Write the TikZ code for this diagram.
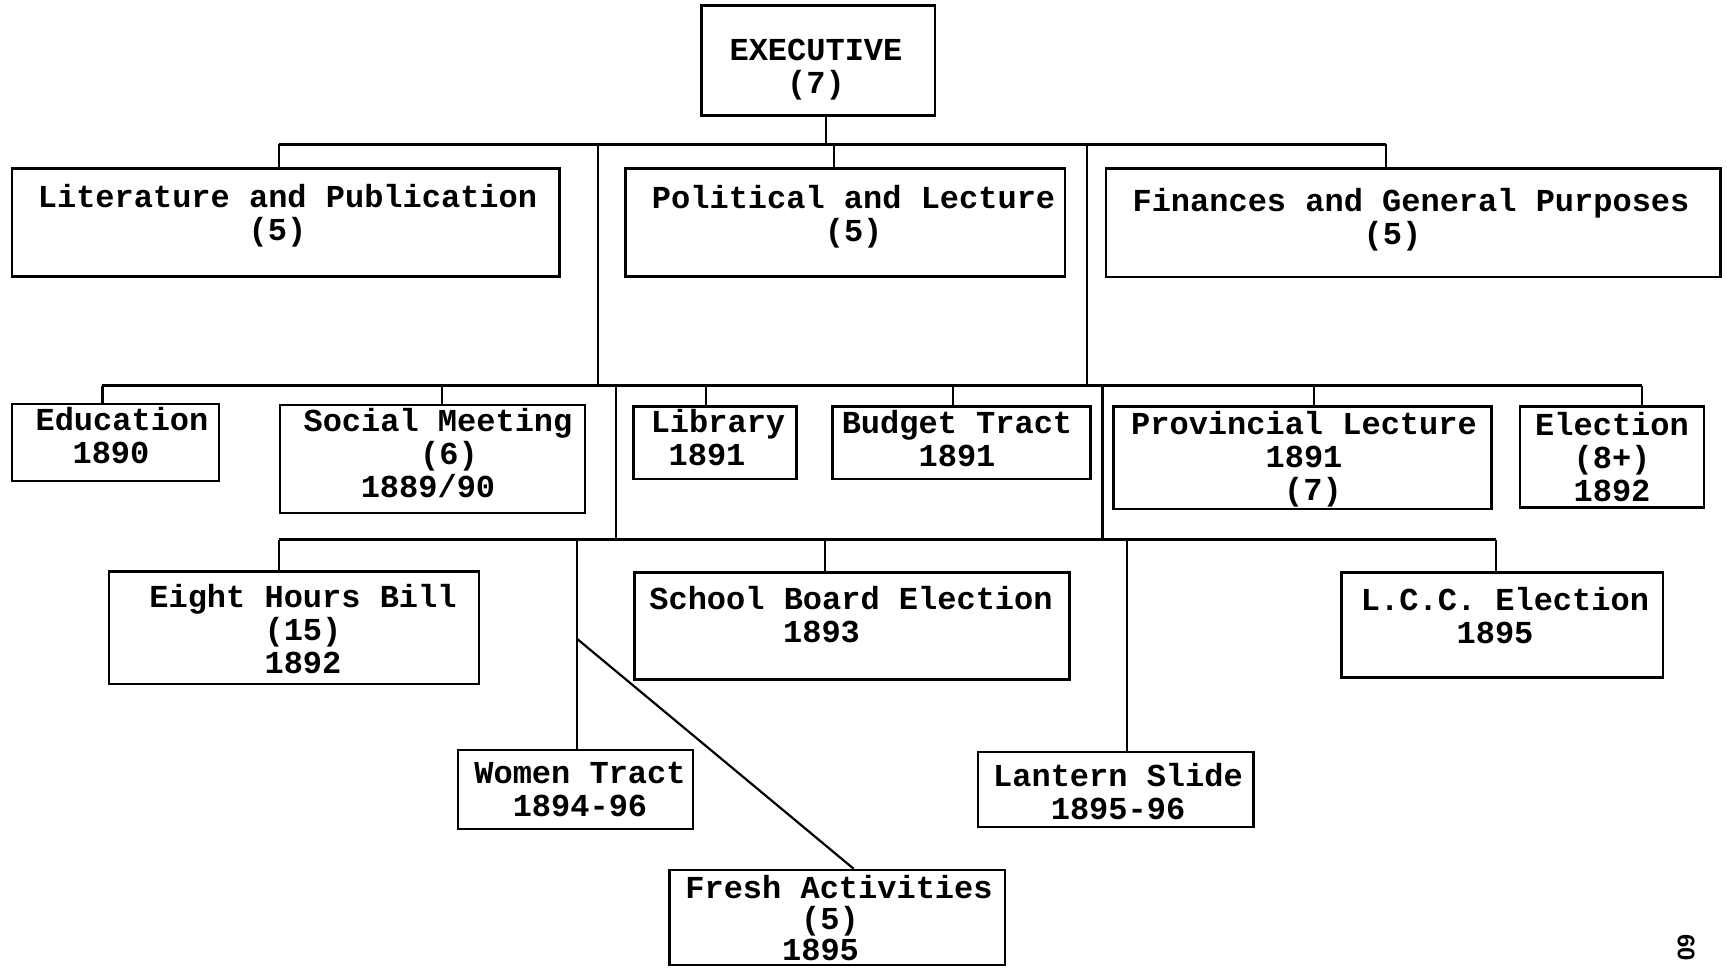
\documentclass[tikz,border=0pt]{standalone}
\usepackage{fontspec}
\setmonofont{Liberation Mono}
\newfontfamily\pgnumfont{Liberation Sans}
\usetikzlibrary{fit}
\newcommand\lnshift[2]{\hspace*{#1}\hspace*{#1}#2}
\begin{document}
\begin{tikzpicture}[x=1pt,y=-1pt,
  boxx/.style={draw, line width=2.6pt, inner sep=0pt},
  lbl/.style={font=\ttfamily\bfseries\fontsize{32}{33}\selectfont, align=center, inner sep=0pt, anchor=north},
  bar/.style={line width=3pt},
  conn/.style={line width=2.2pt},
  pgn/.style={font=\pgnumfont\bfseries\fontsize{24}{24}\selectfont, inner sep=0pt}]
\useasboundingbox[fill=white] (0,0) rectangle (1727,967);

% boxes
\node[boxx, fit={(701.6,5.5) (935,115.6)}] (exec) {};
\node[boxx, fit={(12,168.5) (559.5,276.5)}] (lit) {};
\node[boxx, fit={(625.6,168.5) (1065,276.5)}] (pol) {};
\node[boxx, fit={(1105.8,168.5) (1720.4,277)}] (fin) {};
\node[boxx, fit={(12,404) (219,481)}] (edu) {};
\node[boxx, fit={(279.8,405) (584.8,513)}] (soc) {};
\node[boxx, fit={(633.3,406.4) (796.3,479)}] (lib) {};
\node[boxx, fit={(832.7,406.4) (1090.4,479)}] (bud) {};
\node[boxx, fit={(1113.5,406.4) (1491.3,508.8)}] (prov) {};
\node[boxx, fit={(1520,406.4) (1704,507.7)}] (elec) {};
\node[boxx, fit={(109,571.6) (479,684)}] (eight) {};
\node[boxx, fit={(458,750) (692.8,829)}] (women) {};
\node[boxx, fit={(634.4,572.7) (1069.5,679.6)}] (school) {};
\node[boxx, fit={(978,752) (1253.4,827)}] (lantern) {};
\node[boxx, fit={(1341.5,572.7) (1663,677.4)}] (lcc) {};
\node[boxx, fit={(669.6,870) (1005,965)}] (fresh) {};

% labels
\node[lbl] (execT) at (816,39) {EXECUTIVE\\(7)};
\node[lbl] (litT) at (287.5,184.5) {Literature and Publication\\\lnshift{-10pt}{(5)}};
\node[lbl] (polT) at (853.6,185.6) {Political and Lecture\\(5)};
\node[lbl] (finT) at (1411,187.7) {Finances and General Purposes\\\lnshift{-18.5pt}{(5)}};
\node[lbl] (eduT) at (122,407) {Education\\\lnshift{-11pt}{1890}};
\node[lbl] (socT) at (438,408) {Social Meeting\\\lnshift{11pt}{(6)}\\\lnshift{-10pt}{1889/90}};
\node[lbl] (libT) at (718,409.2) {Library\\\lnshift{-11pt}{1891}};
\node[lbl] (budT) at (957,410.3) {Budget Tract\\1891};
\node[lbl] (provT) at (1304,411.4) {Provincial Lecture\\1891\\\lnshift{9pt}{(7)}};
\node[lbl] (elecT) at (1612,412.5) {Election\\(8+)\\1892};
\node[lbl] (eightT) at (303,584.3) {Eight Hours Bill\\(15)\\1892};
\node[lbl] (schoolT) at (851,586.5) {School Board Election\\\lnshift{-29.5pt}{1893}};
\node[lbl] (lccT) at (1505,587.6) {L.C.C. Election\\\lnshift{-10pt}{1895}};
\node[lbl] (womenT) at (580,761.7) {Women Tract\\1894-96};
\node[lbl] (lantT) at (1118,762.7) {Lantern Slide\\1895-96};
\node[lbl, font=\ttfamily\bfseries\fontsize{32}{31}\selectfont] (freshT) at (839,875) {Fresh Activities\\\lnshift{-9pt}{(5)}\\\lnshift{-18.5pt}{1895}};

\node[pgn, rotate=-90, anchor=west] (pg) at (1686,934) {60};

% level 1
\coordinate (b1L) at (278.6,144);
\coordinate (b1R) at (1385.6,144);
\coordinate (s0) at (826,144);
\coordinate (t1) at (833.8,144);
\coordinate (v1) at (598,144);
\coordinate (v2) at (1087,144);
\draw[bar] (b1L) -- (b1R);
\draw[conn] (s0 |- exec.south) -- (s0);
\draw[conn] (b1L) -- (b1L |- lit.north);
\draw[conn] (t1) -- (t1 |- pol.north);
\draw[conn] (b1R) -- (b1R |- fin.north);

% level 2
\coordinate (b2L) at (102.4,385.5);
\coordinate (b2R) at (1642,385.5);
\coordinate (t2) at (441.7,385.5);
\coordinate (t3) at (706,385.5);
\coordinate (t4) at (952.7,385.5);
\coordinate (t5) at (1314,385.5);
\coordinate (v3) at (615.7,385.5);
\coordinate (v4) at (1102.5,385.5);
\draw[conn] (v1) -- (v1 |- b2L);
\draw[conn] (v2) -- (v2 |- b2L);
\draw[bar] (b2L) -- (b2R);
\draw[conn] (b2L) -- (b2L |- edu.north);
\draw[conn] (t2) -- (t2 |- soc.north);
\draw[conn] (t3) -- (t3 |- lib.north);
\draw[conn] (t4) -- (t4 |- bud.north);
\draw[conn] (t5) -- (t5 |- prov.north);
\draw[conn] (b2R) -- (b2R |- elec.north);

% level 3
\coordinate (b3L) at (278.6,539.7);
\coordinate (b3R) at (1495.7,539.7);
\coordinate (t6) at (577,539.7);
\coordinate (t7) at (825,539.7);
\coordinate (t8) at (1126.7,539.7);
\draw[conn] (v3) -- (v3 |- b3L);
\draw[conn] (v4) -- (v4 |- b3L);
\draw[bar] (b3L) -- (b3R);
\draw[conn] (b3L) -- (b3L |- eight.north);
\draw[conn] (t6) -- (t6 |- women.north);
\draw[conn] (t7) -- (t7 |- school.north);
\draw[conn] (t8) -- (t8 |- lantern.north);
\draw[conn] (b3R) -- (b3R |- lcc.north);

% diagonal
\coordinate (d0) at (577,638.8);
\coordinate (dx) at (853.6,0);
\draw[conn] (d0) -- (dx |- fresh.north);
\end{tikzpicture}
\end{document}
